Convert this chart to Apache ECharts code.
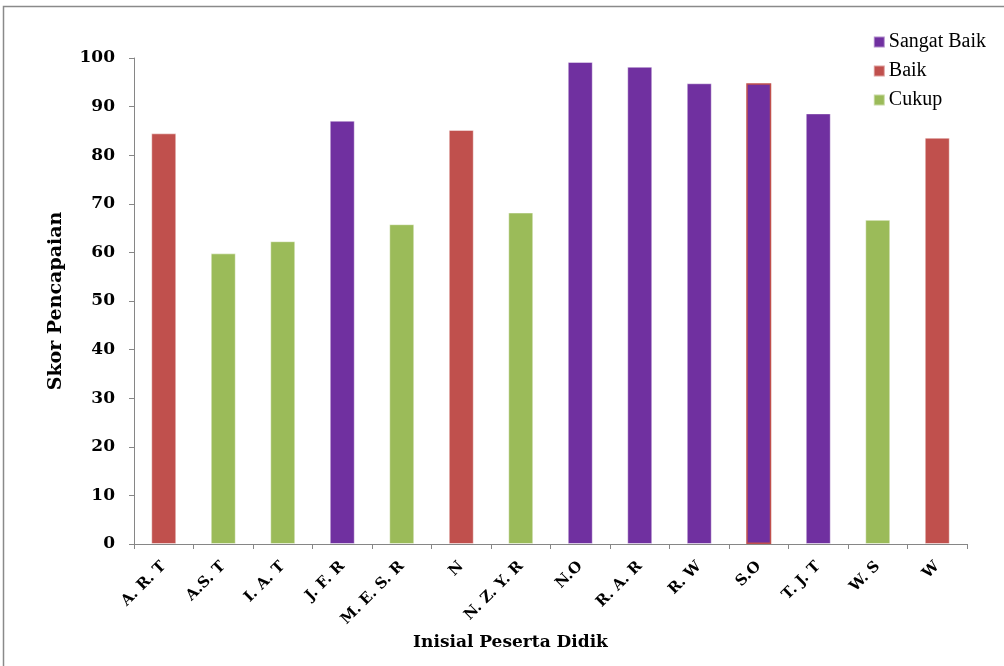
<!DOCTYPE html>
<html>
<head>
<meta charset="utf-8">
<script src="https://cdn.jsdelivr.net/npm/echarts@6/dist/echarts.min.js"></script>
<style>
  html, body { margin: 0; padding: 0; background: #fff; }
  #chart { width: 1004px; height: 666px; }
</style>
</head>
<body>
<div id="chart"></div>
<script>
// data
const categories = ['A. R. T', 'A.S. T', 'I. A. T', 'J. F. R', 'M. E. S. R', 'N', 'N. Z. Y. R',
  'N.O', 'R. A. R', 'R. W', 'S.O', 'T. J. T', 'W. S', 'W'];
const sangatBaik = ['-', '-', '-', 87.1, '-', '-', '-', 99.2, 98.2, 94.8, 94.8, 88.6, '-', '-'];
const baik = [84.5, '-', '-', '-', '-', 85.2, '-', '-', '-', '-', '-', '-', '-', 83.6];
const cukup = ['-', 59.8, 62.3, '-', 65.8, '-', 68.2, '-', '-', '-', '-', '-', 66.7, '-'];
const yTicks = [0, 10, 20, 30, 40, 50, 60, 70, 80, 90, 100];

const colors = { sangat: '#7030A0', baik: '#C0504D', cukup: '#9BBB59' };

function creatChart(){
  const chart = echarts.init(document.getElementById('chart'));
  const axisGray = '#868686';
  const serif = 'DejaVu Serif';

  const barStyle = (c) => ({ color: c, borderColor: 'rgba(255,255,255,0.45)', borderWidth: 1 });

  const option = {
    animation: false,
    backgroundColor: '#fff',
    graphic: [{
      type: 'rect',
      shape: { x: 3.5, y: 6.5, width: 1100, height: 800 },
      style: { fill: 'none', stroke: '#8a8a8a', lineWidth: 1.5 },
      silent: true
    }],
    grid: { left: 134, right: 37, top: 58, bottom: 122 },
    legend: {
      orient: 'vertical',
      right: 13, top: 27,
      itemWidth: 11, itemHeight: 11,
      itemGap: 9,
      icon: 'rect',
      textStyle: { fontFamily: 'Liberation Serif', fontSize: 20, color: '#000', lineHeight: 20, padding: [0, 0, 0, -1] },
      data: ['Sangat Baik', 'Baik', 'Cukup']
    },
    xAxis: {
      type: 'category',
      data: categories,
      name: 'Inisial Peserta Didik',
      nameLocation: 'middle',
      nameGap: 88,
      nameTextStyle: { fontFamily: serif, fontWeight: 'bold', fontSize: 17, color: '#000', padding: [0, 80, 0, 0] },
      axisLine: { lineStyle: { color: axisGray, width: 1 } },
      axisTick: { show: true, length: 5, lineStyle: { color: axisGray } },
      axisLabel: {
        interval: 0, rotate: 45, margin: 20,
        fontFamily: serif, fontWeight: 'bold', fontSize: 15, color: '#000'
      }
    },
    yAxis: {
      type: 'value',
      min: 0, max: 100, interval: 10,
      name: 'Skor Pencapaian',
      nameLocation: 'middle',
      nameGap: 68,
      nameTextStyle: { fontFamily: serif, fontWeight: 'bold', fontSize: 19, color: '#000' },
      axisLine: { show: true, lineStyle: { color: axisGray, width: 1 } },
      axisTick: { show: true, length: 5, lineStyle: { color: axisGray } },
      splitLine: { show: false },
      axisLabel: {
        margin: 19,
        fontFamily: serif, fontWeight: 'bold', fontSize: 17, color: '#000',
        formatter: (v) => yTicks.includes(v) ? String(v) : ''
      }
    },
    series: [
      {
        name: 'Sangat Baik', type: 'bar', barWidth: 25, barGap: '-100%',
        itemStyle: barStyle(colors.sangat),
        data: sangatBaik.map((v, i) => categories[i] === 'S.O'
          ? { value: v, itemStyle: { borderColor: colors.baik, borderWidth: 1.5 } } : v)
      },
      {
        name: 'Baik', type: 'bar', barWidth: 25, barGap: '-100%',
        itemStyle: barStyle(colors.baik),
        data: baik
      },
      {
        name: 'Cukup', type: 'bar', barWidth: 25, barGap: '-100%',
        itemStyle: barStyle(colors.cukup),
        data: cukup
      }
    ]
  };
  chart.setOption(option);
}
creatChart();
</script>
</body>
</html>
